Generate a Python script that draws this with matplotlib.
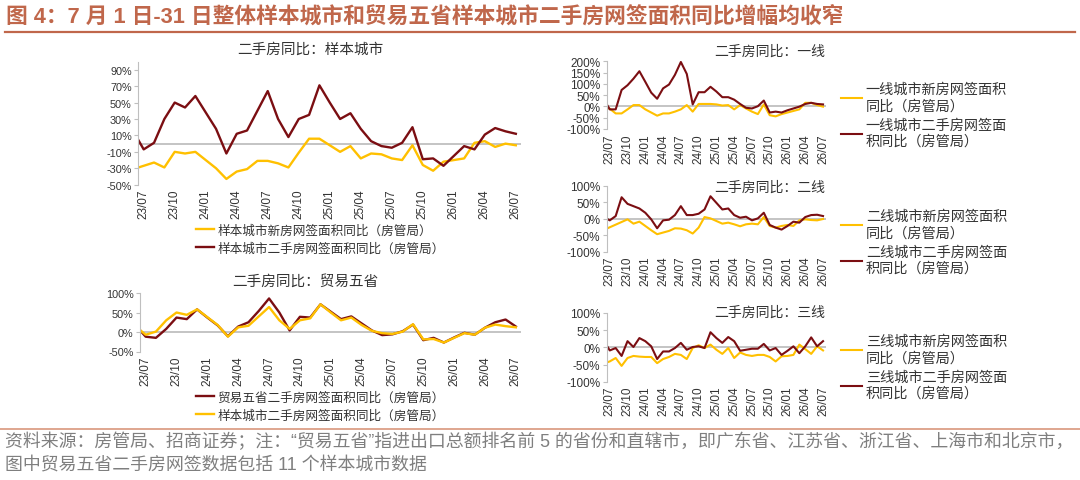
import numpy as np
import matplotlib
matplotlib.use("Agg")
import matplotlib.pyplot as plt
from matplotlib.ticker import FuncFormatter

plt.rcParams['font.family'] = ['Liberation Sans', 'Noto Sans CJK SC', 'DejaVu Sans']

# months 23/06 .. 26/07 (23/06 only shows as the stub at the y axis)
x = np.arange(-1, 37)
tick_pos = np.arange(0, 37, 3)
tick_labels = ["23/07", "23/10", "24/01", "24/04", "24/07", "24/10", "25/01",
               "25/04", "25/07", "25/10", "26/01", "26/04", "26/07"]

sample_new = [-31, -27, -23, -29, -10, -12, -10, -20, -30, -43, -34, -31, -21, -21, -24, -29, -11, 6, 6,
              -2, -10, -3, -18, -12, -13, -18, -20, -2, -26, -33, -22, -20, -18, 1, 3, -4, 0, -2]
sample_2nd = [15, -7, 1, 30, 50, 44, 58, 38, 18, -12, 12, 16, 40, 64, 30, 8, 30, 35, 71,
              50, 30, 37, 18, 3, -3, -5, 1, 20, -19, -18, -27, -15, -3, -7, 11, 19, 15, 12]
trade5_2nd = [18, -12, -15, 8, 37, 33, 58, 37, 17, -11, 14, 25, 54, 86, 50, 4, 39, 37, 71,
              52, 33, 40, 22, 4, -8, -6, 2, 19, -21, -15, -27, -14, -2, -7, 11, 25, 32, 14]
tier1_new = [-2, -10, -31, -31, -13, 6, 6, -13, -27, -41, -31, -31, -23, -13, 6, -23, 11, 11, 11,
             9, 4, 6, -13, 6, -9, -23, -34, 9, -39, -44, -34, -27, -20, -13, 16, 16, 6, -1]
tier1_2nd = [31, -13, -13, 73, 94, 123, 156, 109, 61, 34, 80, 97, 140, 197, 144, 9, 63, 63, 87,
             66, 41, 41, 30, 11, -6, -9, 1, 26, -27, -23, -27, -17, -9, -1, 11, 16, 11, 9]
tier2_new = [-34, -26, -18, -10, -2, -15, -9, -22, -35, -47, -42, -37, -29, -30, -35, -45, -27, 5, 1,
             -7, -15, -12, -17, -23, -17, -15, -17, 5, -22, -27, -22, -19, -22, -5, -2, -4, -5, -1]
tier2_2nd = [5, -5, 8, 65, 45, 38, 31, 18, -2, -29, -5, -3, 11, 38, 11, 11, 15, 28, 68,
             48, 28, 31, 11, 3, 6, -5, 1, 18, -19, -27, -33, -22, -9, -12, 5, 11, 12, 8]
tier3_new = [-47, -41, -31, -54, -31, -25, -27, -28, -28, -46, -34, -28, -19, -22, -34, -2, 6, -2, 8,
             -7, -19, -2, -31, -15, -22, -25, -22, -22, -28, -41, -26, -25, -22, 8, -5, -19, 3, -9]
tier3_2nd = [19, -9, -2, -25, 18, 1, 27, 18, 3, -34, -12, -12, -2, 13, -7, 1, 3, -2, 44,
             27, 13, 30, 18, -10, -7, -4, -4, 10, -9, -2, -22, -10, 3, -17, 3, 29, 3, 18]

RED = "#7B0E12"
GOLD = "#FFC000"
GRAY = "#BFBFBF"
TXT = "#333333"
TITLE_C = "#C0674B"

W, H = 1080, 481
fig = plt.figure(figsize=(W / 100, H / 100), dpi=100)


def box(left, right, top, bottom):
    return [left / W, 1 - bottom / H, (right - left) / W, (bottom - top) / H]


def style(ax, yticks, title, title_xy, tick_fs, xlab_fs, title_fs):
    ax.set_xlim(-0.55, 36.5)
    ax.set_yticks(yticks)
    ax.yaxis.set_major_formatter(FuncFormatter(lambda v, p: f"{v:.0f}%"))
    ax.axhline(0, color=GRAY, lw=1.3, zorder=1)
    for s in ["top", "right", "bottom"]:
        ax.spines[s].set_visible(False)
    ax.spines["left"].set_color(GRAY)
    ax.spines["left"].set_linewidth(0.8)
    ax.tick_params(axis="y", direction="out", length=3, color=GRAY, labelsize=tick_fs,
                   labelcolor=TXT, pad=1.5)
    ax.set_xticks(tick_pos)
    ax.set_xticklabels(tick_labels, rotation=90, fontsize=xlab_fs, color=TXT)
    ax.tick_params(axis="x", length=0, pad=3)
    ax.patch.set_alpha(0)
    fig.text(title_xy[0] / W, 1 - title_xy[1] / H, title, ha="center", va="center",
             fontsize=title_fs, color=TXT)


def legend(ax, x0, y0, fs, spacing, hl):
    ax.legend(loc="upper left", bbox_to_anchor=(x0 / W, 1 - y0 / H), bbox_transform=fig.transFigure,
              frameon=False, fontsize=fs, handlelength=hl, handletextpad=0.3, labelspacing=spacing,
              borderaxespad=0, borderpad=0, labelcolor=TXT)


# top-left: sample cities
ax1 = fig.add_axes(box(138, 521, 62.5, 185.7))
ax1.plot(x, sample_new, color=GOLD, lw=1.7, label="样本城市新房网签面积同比（房管局）")
ax1.plot(x, sample_2nd, color=RED, lw=1.7, label="样本城市二手房网签面积同比（房管局）")
ax1.set_ylim(-50, 100)
style(ax1, np.arange(-50, 91, 20), "二手房同比：样本城市", (310, 50), 7.8, 8.5, 10.5)
legend(ax1, 196, 225, 9.1, 0.45, 1.4)

# bottom-left: trade five provinces
ax2 = fig.add_axes(box(140, 521, 294, 352.5))
ax2.plot(x, trade5_2nd, color=RED, lw=1.7, label="贸易五省二手房网签面积同比（房管局）")
ax2.plot(x, sample_2nd, color=GOLD, lw=1.7, label="样本城市二手房网签面积同比（房管局）")
ax2.set_ylim(-50, 100)
style(ax2, np.arange(-50, 101, 50), "二手房同比：贸易五省", (305, 282), 7.8, 8.5, 10.5)
legend(ax2, 196, 392, 9.1, 0.45, 1.4)

# right column: tier 1/2/3 cities
right = [
    (tier1_new, tier1_2nd, "一线", 62.3, 130, 200, 52, 83),
    (tier2_new, tier2_2nd, "二线", 186.7, 252.7, 100, 188, 210),
    (tier3_new, tier3_2nd, "三线", 314, 382.7, 100, 313, 335),
]
for new, sec, name, top, bot, yhi, ty, ly in right:
    ax = fig.add_axes(box(606.5, 826, top, bot))
    ax.plot(x, new, color=GOLD, lw=1.5, label=f"{name}城市新房网签面积\n同比（房管局）")
    ax.plot(x, sec, color=RED, lw=1.5, label=f"{name}城市二手房网签面\n积同比（房管局）")
    ax.set_ylim(-100, yhi)
    style(ax, np.arange(-100, yhi + 1, 50), f"二手房同比：{name}", (770, ty), 8.5, 8.5, 10)
    legend(ax, 841, ly, 10.2, 0.4, 1.45)

# header
fig.text(6 / W, 1 - 17 / H, "图 4：7 月 1 日-31 日整体样本城市和贸易五省样本城市二手房网签面积同比增幅均收窄",
         ha="left", va="center", fontsize=15.7, fontweight="bold", color=TITLE_C)
fig.add_artist(plt.Line2D([5 / W, 1075 / W], [1 - 32.5 / H] * 2, color=TITLE_C, lw=1.6))
fig.add_artist(plt.Line2D([0, 1], [1 - 430 / H] * 2, color="#D9977D", lw=1.2))

# footnote
NOTE_C = "#7F7F7F"
fig.text(5 / W, 1 - 442 / H,
         "资料来源：房管局、招商证券；注：“贸易五省”指进出口总额排名前 5 的省份和直辖市，即广东省、江苏省、浙江省、上海市和北京市，",
         ha="left", va="center", fontsize=12.9, color=NOTE_C)
fig.text(5 / W, 1 - 466 / H, "图中贸易五省二手房网签数据包括 11 个样本城市数据",
         ha="left", va="center", fontsize=12.9, color=NOTE_C)

fig.savefig("out.png", dpi=100)
